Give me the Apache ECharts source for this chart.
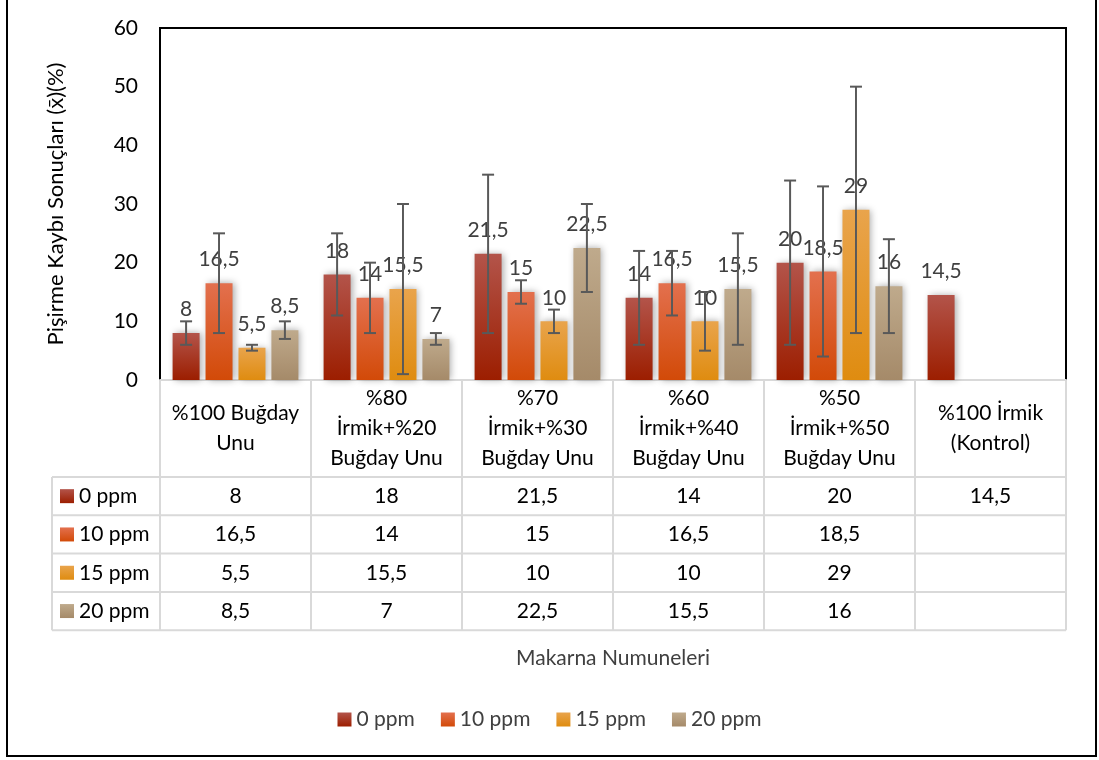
<!DOCTYPE html>
<html>
<head>
<meta charset="utf-8">
<title>Pişirme Kaybı</title>
<script src="https://cdn.jsdelivr.net/npm/echarts@6/dist/echarts.min.js"></script>
<style>
  html, body { margin: 0; padding: 0; background: #fff; }
  #main { width: 1099px; height: 760px; }
</style>
</head>
<body>
<div id="main"></div>
<script>
// kategoriler (tablo başlığı ile aynı)
var categories = ['%100 Buğday\nUnu', '%80\nİrmik+%20\nBuğday Unu', '%70\nİrmik+%30\nBuğday Unu',
                  '%60\nİrmik+%40\nBuğday Unu', '%50\nİrmik+%50\nBuğday Unu', '%100 İrmik\n(Kontrol)'];
var seriesNames = ['0 ppm', '10 ppm', '15 ppm', '20 ppm'];

var ppm0  = [8, 18, 21.5, 14, 20, 14.5];
var ppm10 = [16.5, 14, 15, 16.5, 18.5, null];
var ppm15 = [5.5, 15.5, 10, 10, 29, null];
var ppm20 = [8.5, 7, 22.5, 15.5, 16, null];

// hata çubukları (+/-)
var err0  = [2, 7, 13.5, 8, 14, null];
var err10 = [8.5, 6, 2, 5.5, 14.5, null];
var err15 = [0.5, 14.5, 2, 5, 21, null];
var err20 = [1.5, 1, 7.5, 9.5, 8, null];

var yMin = 0, yMax = 60, yStep = 10;

var values = [ppm0, ppm10, ppm15, ppm20];
var errors = [err0, err10, err15, err20];

var FONT = 'Lato';
var FS = 21;
var BAR_W = 27, BAR_GAP = 0.22;
var GRID_L = 160, GRID_R = 1066, GRID_T = 28, GRID_B = 380;

function grad(top, bottom) {
    return new echarts.graphic.LinearGradient(0, 0, 0, 1, [
        { offset: 0, color: top }, { offset: 1, color: bottom }
    ]);
}
var colors = [
    grad('#b3544a', '#9c1e00'),
    grad('#e3704e', '#d24a08'),
    grad('#e9a44c', '#df8c10'),
    grad('#bfaa8c', '#a58a69')
];

function fmt(v) {
    return v == null ? '' : String(v).replace('.', ',');
}

var chartDom = document.getElementById('main');
var myChart = echarts.init(chartDom);

var series = [];
seriesNames.forEach(function (name, si) {
    series.push({
        name: name,
        type: 'bar',
        barWidth: BAR_W,
        barGap: (BAR_GAP * 100) + '%',
        data: values[si],
        itemStyle: {
            color: colors[si],
            shadowColor: 'rgba(0,0,0,0.35)',
            shadowBlur: 7,
            shadowOffsetX: 2
        },
        label: {
            show: true,
            position: 'top',
            distance: 13,
            fontFamily: FONT,
            fontSize: FS,
            color: '#404040',
            formatter: function (p) { return fmt(p.value); }
        },
        z: 2
    });
});

// hata çubukları
seriesNames.forEach(function (name, si) {
    var d = [];
    values[si].forEach(function (v, i) {
        if (v != null && errors[si][i] != null) d.push([i, v, errors[si][i]]);
    });
    series.push({
        name: name + ' err',
        type: 'custom',
        z: 5,
        silent: true,
        data: d,
        renderItem: function (params, api) {
            var i = api.value(0), v = api.value(1), e = api.value(2);
            var off = (si - 1.5) * BAR_W * (1 + BAR_GAP);
            var top = api.coord([i, v + e]);
            var bot = api.coord([i, v - e]);
            var x = top[0] + off;
            var st = { stroke: '#595959', lineWidth: 2 };
            return {
                type: 'group',
                children: [
                    { type: 'line', shape: { x1: x, y1: top[1], x2: x, y2: bot[1] }, style: st },
                    { type: 'line', shape: { x1: x - 6, y1: top[1], x2: x + 6, y2: top[1] }, style: st },
                    { type: 'line', shape: { x1: x - 6, y1: bot[1], x2: x + 6, y2: bot[1] }, style: st }
                ]
            };
        }
    });
});

var option = {
    animation: false,
    textStyle: { fontFamily: FONT },
    grid: {
        left: GRID_L, right: 1099 - GRID_R, top: GRID_T, bottom: 760 - GRID_B,
        show: true, borderColor: '#000', borderWidth: 2, backgroundColor: '#fff'
    },
    legend: {
        data: seriesNames,
        bottom: 25,
        left: 'center',
        icon: 'rect',
        itemWidth: 14,
        itemHeight: 14,
        itemGap: 26,
        textStyle: { fontFamily: FONT, fontSize: FS, color: '#404040' }
    },
    xAxis: {
        type: 'category',
        data: categories,
        name: 'Makarna Numuneleri',
        nameLocation: 'middle',
        nameGap: 268,
        nameTextStyle: { fontFamily: FONT, fontSize: FS, color: '#404040' },
        axisLine: { lineStyle: { color: '#d9d9d9', width: 2 } },
        axisTick: { show: false },
        axisLabel: {
            interval: 0,
            margin: 48,
            verticalAlign: 'middle',
            fontFamily: FONT,
            fontSize: FS,
            lineHeight: 30,
            color: '#000'
        }
    },
    yAxis: {
        type: 'value',
        min: yMin, max: yMax, interval: yStep,
        name: 'Pişirme Kaybı Sonuçları (x\u0304)(%)',
        nameLocation: 'middle',
        nameGap: 93,
        nameTextStyle: { fontFamily: FONT, fontSize: 22, color: '#000' },
        axisLine: { show: true, lineStyle: { color: '#000', width: 2 } },
        axisTick: { show: false },
        splitLine: { show: false },
        axisLabel: { fontFamily: FONT, fontSize: FS, color: '#000', margin: 22 }
    },
    series: series
};

myChart.setOption(option);

// veri tablosu
function buildTable() {
    var g = [];
    var n = categories.length;
    var colW = (GRID_R - GRID_L) / n;
    var headB = 477, rowH = 38.3, labL = 52;
    var lineSt = { stroke: '#d9d9d9', lineWidth: 2 };
    var tableB = headB + rowH * seriesNames.length;

    // dikey çizgiler
    for (var c = 0; c <= n; c++) {
        var x = GRID_L + c * colW;
        g.push({ type: 'line', shape: { x1: x, y1: GRID_B, x2: x, y2: tableB }, style: lineSt, z: 10 });
    }
    g.push({ type: 'line', shape: { x1: labL, y1: headB, x2: labL, y2: tableB }, style: lineSt, z: 10 });
    // yatay çizgiler
    for (var r = 0; r <= seriesNames.length; r++) {
        var y = headB + r * rowH;
        g.push({ type: 'line', shape: { x1: labL, y1: y, x2: GRID_R, y2: y }, style: lineSt, z: 10 });
    }
    // satırlar
    seriesNames.forEach(function (name, si) {
        var cy = headB + (si + 0.5) * rowH;
        g.push({ type: 'rect', shape: { x: 60, y: cy - 7, width: 14, height: 14 },
                 style: { fill: colors[si] }, z: 10 });
        g.push({ type: 'text', x: 79, y: cy, z: 10,
                 style: { text: name, font: FS + 'px ' + FONT, fill: '#000', textVerticalAlign: 'middle' } });
        values[si].forEach(function (v, i) {
            if (v == null) return;
            g.push({ type: 'text', x: GRID_L + (i + 0.5) * colW, y: cy, z: 10,
                     style: { text: fmt(v), font: FS + 'px ' + FONT, fill: '#000',
                              textAlign: 'center', textVerticalAlign: 'middle' } });
        });
    });
    // dış çerçeve
    g.push({ type: 'rect', shape: { x: 7, y: -2, width: 1089, height: 758 },
             style: { fill: null, stroke: '#000', lineWidth: 2 }, z: 10 });
    return g;
}

myChart.setOption({ graphic: { elements: buildTable() } });

window.addEventListener('resize', function () {
    myChart.resize();
});
</script>
</body>
</html>
